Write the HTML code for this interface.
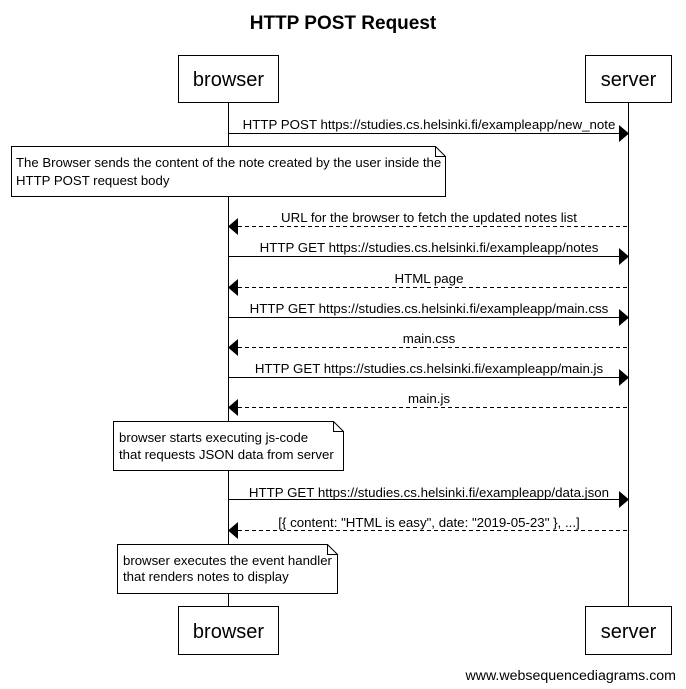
<!DOCTYPE html>
<html><head><meta charset="utf-8"><style>
html,body{margin:0;padding:0;background:#fff;}
svg{display:block;font-family:"Liberation Sans",Arial,sans-serif;}
</style></head><body>
<svg width="686" height="689" viewBox="0 0 686 689" xmlns="http://www.w3.org/2000/svg">
<rect width="686" height="689" fill="#fff"/>
<text x="343" y="29" font-size="19" font-weight="bold" text-anchor="middle">HTTP POST Request</text>
<line x1="228.5" y1="102" x2="228.5" y2="606" stroke="#000"/>
<line x1="628.5" y1="102" x2="628.5" y2="606" stroke="#000"/>
<rect x="178.5" y="55.5" width="100" height="47" fill="#fff" stroke="#000"/>
<text x="228.5" y="86" font-size="20" text-anchor="middle">browser</text>
<rect x="585.5" y="55.5" width="86" height="47" fill="#fff" stroke="#000"/>
<text x="628.5" y="86" font-size="20" text-anchor="middle">server</text>
<rect x="178.5" y="606.5" width="100" height="48" fill="#fff" stroke="#000"/>
<text x="228.5" y="638" font-size="20" text-anchor="middle">browser</text>
<rect x="585.5" y="606.5" width="86" height="48" fill="#fff" stroke="#000"/>
<text x="628.5" y="638" font-size="20" text-anchor="middle">server</text>
<g font-size="13.3" text-anchor="middle">
<line x1="228.5" y1="133.5" x2="620" y2="133.5" stroke="#000"/><polygon points="619,125 629,133.5 619,142" fill="#000"/>
<text x="429" y="129">HTTP POST https://studies.cs.helsinki.fi/exampleapp/new_note</text>

<line x1="238" y1="226.5" x2="628.5" y2="226.5" stroke="#000" stroke-dasharray="4,3"/><polygon points="238,218 228,226.5 238,235" fill="#000"/>
<text x="429" y="222">URL for the browser to fetch the updated notes list</text>

<line x1="228.5" y1="256.5" x2="620" y2="256.5" stroke="#000"/><polygon points="619,248 629,256.5 619,265" fill="#000"/>
<text x="429" y="252">HTTP GET https://studies.cs.helsinki.fi/exampleapp/notes</text>

<line x1="238" y1="287.5" x2="628.5" y2="287.5" stroke="#000" stroke-dasharray="4,3"/><polygon points="238,279 228,287.5 238,296" fill="#000"/>
<text x="429" y="283">HTML page</text>

<line x1="228.5" y1="317.5" x2="620" y2="317.5" stroke="#000"/><polygon points="619,309 629,317.5 619,326" fill="#000"/>
<text x="429" y="313">HTTP GET https://studies.cs.helsinki.fi/exampleapp/main.css</text>

<line x1="238" y1="347.5" x2="628.5" y2="347.5" stroke="#000" stroke-dasharray="4,3"/><polygon points="238,339 228,347.5 238,356" fill="#000"/>
<text x="429" y="343">main.css</text>

<line x1="228.5" y1="377.5" x2="620" y2="377.5" stroke="#000"/><polygon points="619,369 629,377.5 619,386" fill="#000"/>
<text x="429" y="373">HTTP GET https://studies.cs.helsinki.fi/exampleapp/main.js</text>

<line x1="238" y1="407.5" x2="628.5" y2="407.5" stroke="#000" stroke-dasharray="4,3"/><polygon points="238,399 228,407.5 238,416" fill="#000"/>
<text x="429" y="403">main.js</text>

<line x1="228.5" y1="499.5" x2="620" y2="499.5" stroke="#000"/><polygon points="619,491 629,499.5 619,508" fill="#000"/>
<text x="429" y="497">HTTP GET https://studies.cs.helsinki.fi/exampleapp/data.json</text>

<line x1="238" y1="530.5" x2="628.5" y2="530.5" stroke="#000" stroke-dasharray="4,3"/><polygon points="238,522 228,530.5 238,539" fill="#000"/>
<text x="429" y="527">[{ content: "HTML is easy", date: "2019-05-23" }, ...]</text>
</g>
<g font-size="13.2">
<path d="M11.5,146.5 H435.5 L445.5,156.5 V196.5 H11.5 Z" fill="#fff" stroke="#000"/>
<path d="M435.5,146.5 V156.5 H445.5" fill="none" stroke="#000"/>
<text x="16" y="167">The Browser sends the content of the note created by the user inside the</text>
<text x="16" y="185">HTTP POST request body</text>

<path d="M113.5,421.5 H333.5 L343.5,431.5 V470.5 H113.5 Z" fill="#fff" stroke="#000"/>
<path d="M333.5,421.5 V431.5 H343.5" fill="none" stroke="#000"/>
<text x="119" y="442">browser starts executing js-code</text>
<text x="119" y="459">that requests JSON data from server</text>

<path d="M117.5,544.5 H327.5 L337.5,554.5 V593.5 H117.5 Z" fill="#fff" stroke="#000"/>
<path d="M327.5,544.5 V554.5 H337.5" fill="none" stroke="#000"/>
<text x="123" y="565">browser executes the event handler</text>
<text x="123" y="581">that renders notes to display</text>
</g>
<text x="676" y="680" font-size="14.2" text-anchor="end">www.websequencediagrams.com</text>
</svg>
</body></html>
